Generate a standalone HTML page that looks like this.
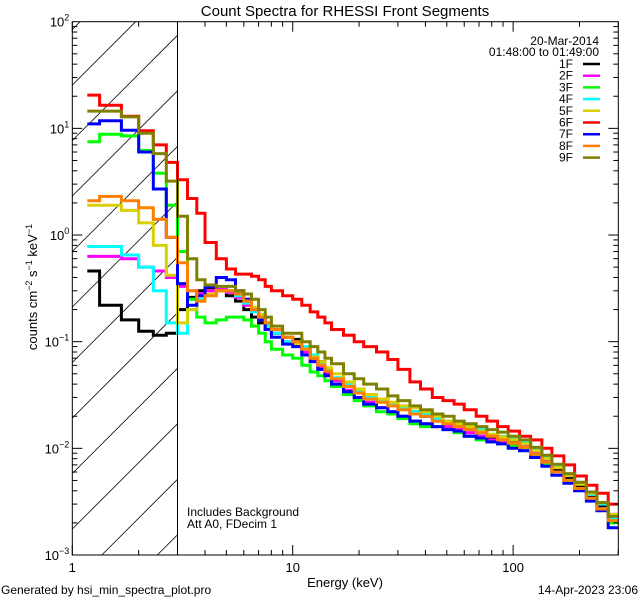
<!DOCTYPE html>
<html><head><meta charset="utf-8"><style>
html,body{margin:0;padding:0;background:#fff;width:640px;height:600px;overflow:hidden;}
svg{display:block;font-family:"Liberation Sans",sans-serif;overflow:hidden;}
</style></head><body>
<svg id="chart" width="640" height="600" viewBox="0 0 640 600" xmlns="http://www.w3.org/2000/svg">
<defs><clipPath id="plotclip"><rect x="72.3" y="21.7" width="546" height="533.3"/></clipPath></defs>
<text x="345" y="16" font-size="15" text-anchor="middle">Count Spectra for RHESSI Front Segments</text>
<g id="hatch"></g>
<g id="series" clip-path="url(#plotclip)"></g>
<g id="axes"></g>
<line x1="177.5" y1="21.7" x2="177.5" y2="555" stroke="#000" stroke-width="1"/>
<text transform="translate(37,287) rotate(-90)" font-size="13" text-anchor="middle">counts cm<tspan dy="-5" font-size="9">−2</tspan><tspan dy="5"> s</tspan><tspan dy="-5" font-size="9">−1</tspan><tspan dy="5"> keV</tspan><tspan dy="-5" font-size="9">−1</tspan></text>
<text x="345" y="587" font-size="13" text-anchor="middle">Energy (keV)</text>
<text x="187" y="516" font-size="12">Includes Background</text>
<text x="187" y="528" font-size="12">Att A0, FDecim 1</text>
<text x="1" y="594" font-size="12">Generated by hsi_min_spectra_plot.pro</text>
<text x="638" y="594" font-size="12" text-anchor="end">14-Apr-2023 23:06</text>
<text x="599" y="45" font-size="12" text-anchor="end">20-Mar-2014</text>
<text x="599" y="56" font-size="12" text-anchor="end">01:48:00 to 01:49:00</text>
<g id="legend"></g>
</svg>
<script>
const edges=[1.17,1.33,1.67,2,2.33,2.67,3,3.33,3.67,4,4.5,5,5.5,6,6.5,7,7.5,8,9,10,11,12,13,14,15,17,19,21,24,27,30,34,38,43,48,54,60,68,76,85,95,107,120,135,150,170,190,215,240,270,300];
const names=["1F","2F","3F","4F","5F","6F","7F","8F","9F"];
const colors=["#000000","#ff00ff","#00ff00","#00ffff","#d8d000","#ff0000","#0000ff","#ff8000","#808000"];
const s1F=[0.46,0.22,0.16,0.125,0.115,0.12,0.2,0.26,0.3,0.32,0.3,0.27,0.24,0.2,0.17,0.15,0.13,0.12,0.11,0.105,0.085,0.07,0.065,0.052,0.045,0.04,0.036,0.032,0.029,0.026,0.024,0.022,0.02,0.019,0.017,0.016,0.015,0.014,0.0125,0.012,0.0115,0.011,0.0095,0.0078,0.0062,0.0052,0.0044,0.0035,0.0029,0.0022];
const s2F=[0.63,0.63,0.6,0.5,0.46,0.4,0.33,0.3,0.28,0.3,0.31,0.29,0.26,0.22,0.19,0.16,0.14,0.12,0.1,0.095,0.08,0.065,0.058,0.05,0.043,0.035,0.03,0.027,0.024,0.022,0.02,0.018,0.017,0.016,0.016,0.015,0.014,0.013,0.012,0.0115,0.011,0.0105,0.009,0.0078,0.0066,0.0056,0.0046,0.0037,0.0031,0.0024];
const s3F=[7.5,8.8,8.5,6.2,3.8,1.9,0.7,0.25,0.17,0.15,0.16,0.17,0.17,0.16,0.14,0.12,0.1,0.085,0.075,0.07,0.06,0.052,0.048,0.043,0.038,0.032,0.028,0.025,0.022,0.021,0.019,0.017,0.016,0.016,0.015,0.014,0.013,0.012,0.0115,0.011,0.0105,0.0098,0.0085,0.0072,0.006,0.005,0.0042,0.0033,0.0027,0.002];
const s4F=[0.78,0.78,0.65,0.5,0.3,0.15,0.12,0.2,0.25,0.28,0.3,0.3,0.27,0.23,0.19,0.16,0.14,0.12,0.1,0.1,0.09,0.075,0.062,0.055,0.046,0.04,0.034,0.03,0.028,0.026,0.024,0.022,0.021,0.019,0.018,0.017,0.016,0.015,0.0135,0.013,0.0125,0.0115,0.0098,0.0082,0.0068,0.0057,0.0047,0.0037,0.003,0.0022];
const s5F=[1.9,1.9,1.7,1.3,0.8,0.42,0.15,0.2,0.24,0.28,0.3,0.3,0.28,0.25,0.21,0.18,0.15,0.13,0.11,0.095,0.085,0.072,0.065,0.057,0.05,0.042,0.036,0.032,0.029,0.027,0.025,0.024,0.022,0.02,0.018,0.017,0.016,0.0145,0.0135,0.0128,0.012,0.011,0.0095,0.008,0.0066,0.0056,0.0046,0.0038,0.0031,0.0024];
const s6F=[20.5,16.5,13,9.5,7,4.8,3.3,2.2,1.6,0.85,0.6,0.48,0.43,0.43,0.41,0.38,0.33,0.3,0.27,0.25,0.22,0.19,0.17,0.15,0.13,0.115,0.1,0.09,0.08,0.068,0.055,0.042,0.036,0.03,0.028,0.026,0.023,0.02,0.018,0.016,0.0145,0.013,0.012,0.01,0.0085,0.007,0.0055,0.0045,0.0038,0.003];
const s7F=[11,11.8,9.6,6,2.7,0.95,0.35,0.22,0.27,0.33,0.4,0.38,0.3,0.25,0.2,0.16,0.13,0.11,0.095,0.09,0.075,0.065,0.055,0.048,0.04,0.034,0.03,0.026,0.024,0.022,0.02,0.018,0.017,0.016,0.015,0.0145,0.013,0.0125,0.0115,0.011,0.01,0.0095,0.0082,0.0068,0.0056,0.0047,0.004,0.0032,0.0026,0.0018];
const s8F=[2.1,2.3,2.1,1.8,1.4,0.95,0.55,0.3,0.24,0.27,0.3,0.3,0.28,0.24,0.2,0.17,0.15,0.13,0.11,0.1,0.085,0.07,0.06,0.053,0.045,0.038,0.033,0.029,0.027,0.025,0.023,0.021,0.02,0.018,0.017,0.016,0.015,0.014,0.013,0.012,0.0112,0.0102,0.0088,0.0074,0.006,0.005,0.0042,0.0034,0.0027,0.0021];
const s9F=[14.5,14.5,12.8,9,5.8,3.2,1.5,0.6,0.38,0.34,0.33,0.33,0.3,0.28,0.25,0.2,0.17,0.14,0.12,0.12,0.1,0.09,0.08,0.07,0.062,0.05,0.045,0.04,0.036,0.031,0.028,0.025,0.023,0.021,0.02,0.018,0.017,0.016,0.015,0.0142,0.013,0.012,0.0102,0.0086,0.0071,0.0058,0.0048,0.0039,0.0031,0.0023];
const allSeries=[s1F,s2F,s3F,s4F,s5F,s6F,s7F,s8F,s9F];
const yTickExps=[-3,-2,-1,0,1,2];
const xTickLabels=["1","10","100"];

const NS="http://www.w3.org/2000/svg";
const L=72.3,R=618.3,T=21.7,B=555,HX=177.5;
const XMIN=1,XMAX=300,YMIN=1e-3,YMAX=1e2;
function xs(v){return L+(Math.log10(v)-Math.log10(XMIN))/(Math.log10(XMAX)-Math.log10(XMIN))*(R-L);}
function ys(v){return B-(Math.log10(v)-Math.log10(YMIN))/(Math.log10(YMAX)-Math.log10(YMIN))*(B-T);}
function mk(tag,attrs,parent){const e=document.createElementNS(NS,tag);for(const k in attrs)e.setAttribute(k,attrs[k]);parent.appendChild(e);return e;}

const hatch=document.getElementById('hatch');
for(let i=-2;i<12;i++){
  const y0=85+i*55.5;
  const xa=Math.max(L,L+y0-B), xb=Math.min(HX,L+y0-T);
  if(xa>=xb) continue;
  const ln=mk('line',{x1:xa,y1:y0-(xa-L),x2:xb,y2:y0-(xb-L),stroke:'#000','stroke-width':0.8},hatch);
  
  
}

const sg=document.getElementById('series');
allSeries.forEach((vals,si)=>{
  let d='';
  for(let i=0;i<vals.length;i++){
    const x0=xs(edges[i]),x1=xs(edges[i+1]),y=ys(vals[i]);
    d+=(i===0?'M':'L')+x0.toFixed(1)+','+y.toFixed(1)+'L'+x1.toFixed(1)+','+y.toFixed(1);
  }
  const p=mk('path',{d:d,fill:'none',stroke:colors[si],'stroke-width':3,'stroke-linejoin':'miter'},sg);
  
  
});

const ax=document.getElementById('axes');
const fr=mk('rect',{x:L,y:T,width:R-L,height:B-T,fill:'none',stroke:'#000','stroke-width':1},ax);


for(let e=-3;e<2;e++){
  for(let m=1;m<10;m++){
    const y=ys(m*Math.pow(10,e));const len=m===1?10:5;
    const t1=mk('line',{x1:L,y1:y,x2:L+len,y2:y,stroke:'#000'},ax);
    
    
    const t2=mk('line',{x1:R,y1:y,x2:R-len,y2:y,stroke:'#000'},ax);
    
    
  }
}
yTickExps.forEach(e=>{
  const y=ys(Math.pow(10,e));
  const t=mk('text',{x:L-3,y:y+5,'font-size':13,'text-anchor':'end'},ax);
  
  
  const a=mk('tspan',{},t);a.textContent='10';
  const b=mk('tspan',{dy:-6,'font-size':9},t);b.textContent=(e<0?'−':'')+Math.abs(e);
});
for(let e=0;e<3;e++){
  for(let m=1;m<10;m++){
    const v=m*Math.pow(10,e);if(v>XMAX)break;
    const x=xs(v);const len=m===1?10:5;
    const t1=mk('line',{x1:x,y1:B,x2:x,y2:B-len,stroke:'#000'},ax);
    
    
    const t2=mk('line',{x1:x,y1:T,x2:x,y2:T+len,stroke:'#000'},ax);
    
    
  }
}
xTickLabels.forEach((lab,i)=>{
  const t=mk('text',{x:xs(Math.pow(10,i)),y:B+17,'font-size':13,'text-anchor':'middle'},ax);
  
  
  t.textContent=lab;
});

const lg=document.getElementById('legend');
names.forEach((n,i)=>{
  const y=68+i*11.7;
  const t=mk('text',{x:573,y:y,'font-size':12,'text-anchor':'end'},lg);
  
  
  t.textContent=n;
  const l=mk('line',{x1:583,y1:y-4,x2:600,y2:y-4,stroke:colors[i],'stroke-width':2.5},lg);
  
  
});
</script>
</body></html>
